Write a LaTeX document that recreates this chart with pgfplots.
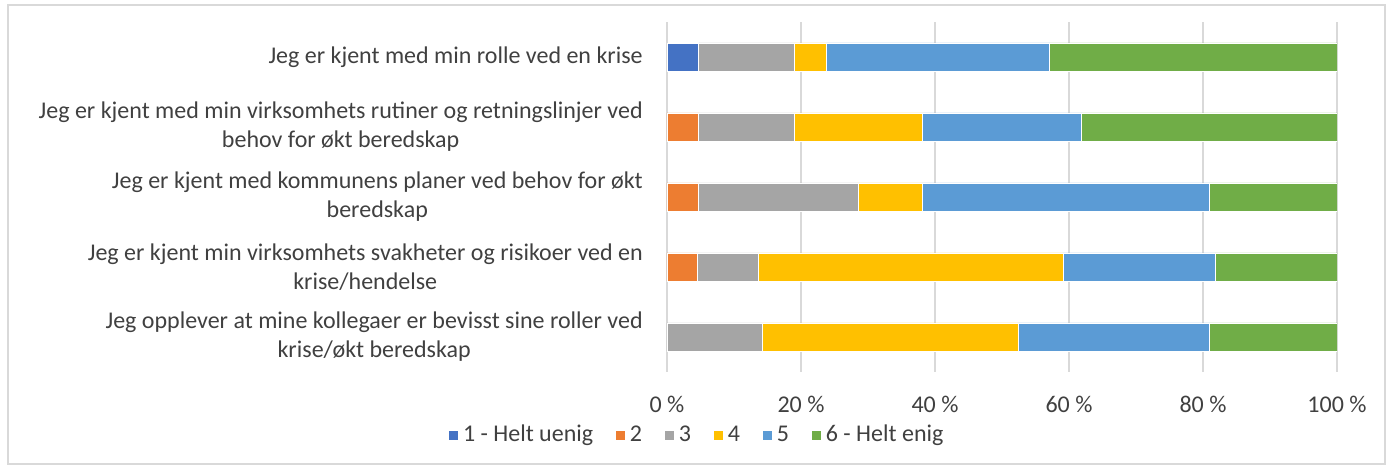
\documentclass[border=0pt]{standalone}
\usepackage{fontspec}
\setmainfont{Carlito}
\usepackage{pgfplots}
\pgfplotsset{compat=1.18}

\definecolor{c1}{HTML}{4472C4}
\definecolor{c2}{HTML}{ED7D31}
\definecolor{c3}{HTML}{A5A5A5}
\definecolor{c4}{HTML}{FFC000}
\definecolor{c5}{HTML}{5B9BD5}
\definecolor{c6}{HTML}{70AD47}
\definecolor{txt}{HTML}{404040}
\definecolor{gridc}{HTML}{D9D9D9}

\begin{document}
\begin{tikzpicture}[x=1pt,y=1pt]
% canvas 1393x469 px at 0.5pt per px
\path (0,0) rectangle (696.5,234.5);
\draw[gridc, line width=0.6pt] (4,2.5) rectangle (692.5,232);
\begin{axis}[
  at={(333.5pt,48.5pt)}, anchor=south west,
  scale only axis,
  width=335pt, height=175pt,
  xbar stacked,
  bar width=14pt,
  xmin=0, xmax=100,
  ymin=-0.5, ymax=4.5,
  y dir=reverse,
  ytick={0,1,2,3,4},
  yticklabels={
    {Jeg er kjent med min rolle ved en krise},
    {Jeg er kjent med min virksomhets rutiner og retningslinjer ved\\behov for økt beredskap},
    {Jeg er kjent med kommunens planer ved behov for økt\\beredskap},
    {Jeg er kjent min virksomhets svakheter og risikoer ved en\\krise/hendelse},
    {Jeg opplever at mine kollegaer er bevisst sine roller ved\\krise/økt beredskap}},
  xtick={0,20,40,60,80,100},
  xticklabels={0 \%,20 \%,40 \%,60 \%,80 \%,100 \%},
  major tick length=0pt,
  axis line style={draw=none},
  xmajorgrids, grid style={gridc, line width=0.7pt},
  tick label style={font=\fontsize{12}{14.5}\selectfont, text=txt},
  yticklabel style={align=center, anchor=east, inner sep=0pt, xshift=-12pt},
  xticklabel style={inner sep=0pt, yshift=-12pt},
  every axis plot/.append style={draw=white, line width=0.4pt},
  legend style={at={(0.046,-0.18)}, anchor=center, draw=none,
    legend columns=6, font=\fontsize{12}{14.5}\selectfont, text=txt,
    /tikz/every even column/.append style={column sep=9pt}},
  legend image code/.code={\fill[#1] (0pt,-2.5pt) rectangle (5pt,2.5pt);},
]
\addplot[fill=c1] coordinates {(4.76,0) (0,1) (0,2) (0,3) (0,4)};
\addlegendentry{1 - Helt uenig}
\addplot[fill=c2] coordinates {(0,0) (4.76,1) (4.76,2) (4.55,3) (0,4)};
\addlegendentry{2}
\addplot[fill=c3] coordinates {(14.29,0) (14.29,1) (23.81,2) (9.09,3) (14.29,4)};
\addlegendentry{3}
\addplot[fill=c4] coordinates {(4.76,0) (19.05,1) (9.52,2) (45.45,3) (38.10,4)};
\addlegendentry{4}
\addplot[fill=c5] coordinates {(33.33,0) (23.81,1) (42.86,2) (22.73,3) (28.57,4)};
\addlegendentry{5}
\addplot[fill=c6] coordinates {(42.86,0) (38.10,1) (19.05,2) (18.18,3) (19.05,4)};
\addlegendentry{6 - Helt enig}
\end{axis}
\end{tikzpicture}
\end{document}
